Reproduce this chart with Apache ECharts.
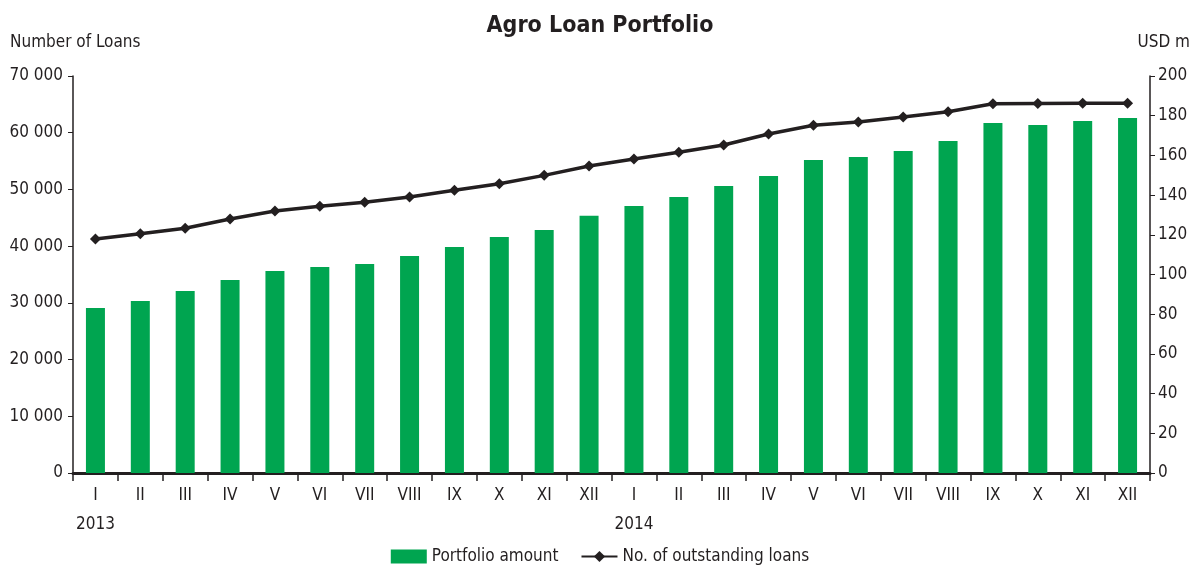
<!DOCTYPE html>
<html>
<head>
<meta charset="utf-8">
<script src="https://cdn.jsdelivr.net/npm/echarts@6/dist/echarts.min.js"></script>
<style>
  html, body { margin: 0; padding: 0; background: #fff; }
  #chart { width: 1200px; height: 568px; }
</style>
</head>
<body>
<div id="chart"></div>
<script>
// months (roman numerals), two years
const months = ['I', 'II', 'III', 'IV', 'V', 'VI', 'VII', 'VIII', 'IX', 'X', 'XI', 'XII',
                'I', 'II', 'III', 'IV', 'V', 'VI', 'VII', 'VIII', 'IX', 'X', 'XI', 'XII'];
const years = ['2013', '', '', '', '', '', '', '', '', '', '', '',
               '2014', '', '', '', '', '', '', '', '', '', '', ''];

// USD m, right axis
const portfolioAmount = [83.1, 86.6, 91.7, 97.2, 101.8, 103.8, 105.3, 109.3, 113.9, 118.9, 122.4, 129.6,
                         134.5, 139.0, 144.6, 149.6, 157.7, 159.2, 162.2, 167.3, 176.3, 175.3, 177.3, 178.8];

// number of loans, left axis
const outstandingLoans = [41250, 42190, 43140, 44780, 46190, 47020, 47720, 48660, 49840, 51010, 52480, 54120,
                          55360, 56540, 57830, 59770, 61300, 61880, 62760, 63700, 65110, 65170, 65190, 65210];

const FONT = '"Liberation Sans Narrow", "DejaVu Sans Condensed", sans-serif';
const INK = '#231f20';
const GREEN = '#00a550';

function spaced(v) {
    return String(v).replace(/\B(?=(\d{3})+(?!\d))/g, ' ');
}

const chart = echarts.init(document.getElementById('chart'));

const option = {
    animation: false,
    textStyle: { fontFamily: FONT, color: INK },
    title: {
        text: 'Agro Loan Portfolio',
        left: 'center',
        top: 10,
        textStyle: { fontFamily: FONT, fontSize: 23, fontWeight: 'bold', color: INK }
    },
    legend: {
        bottom: -2,
        left: 'center',
        itemGap: 22,
        itemWidth: 36,
        itemHeight: 14,
        textStyle: { fontFamily: FONT, fontSize: 17, color: INK },
        data: [
            { name: 'Portfolio amount', icon: 'rect' },
            { name: 'No. of outstanding loans' }
        ]
    },
    grid: { left: 73, right: 50, top: 76, bottom: 95 },
    xAxis: [
        {
            type: 'category',
            data: months,
            boundaryGap: true,
            axisLine: { lineStyle: { color: INK, width: 3 } },
            axisTick: { show: true, length: 8, lineStyle: { color: INK, width: 1.5 } },
            axisLabel: { fontFamily: FONT, fontSize: 17, color: INK, margin: 14 }
        },
        {
            type: 'category',
            data: years,
            position: 'bottom',
            offset: 35,
            boundaryGap: true,
            axisLine: { show: false },
            axisTick: { show: false },
            axisLabel: { fontFamily: FONT, fontSize: 17, color: INK, interval: 0 }
        }
    ],
    yAxis: [
        {
            type: 'value',
            name: 'Number of Loans',
            nameLocation: 'end',
            nameGap: 25,
            nameTextStyle: { fontFamily: FONT, fontSize: 17, color: INK, align: 'left', padding: [0, 0, 0, -63] },
            min: 0, max: 70000, interval: 10000,
            axisLine: { show: true, lineStyle: { color: INK, width: 1.5 } },
            axisTick: { show: true, length: 5, lineStyle: { color: INK } },
            splitLine: { show: false },
            axisLabel: { fontFamily: FONT, fontSize: 17, color: INK, margin: 10, formatter: spaced }
        },
        {
            type: 'value',
            name: 'USD m',
            nameLocation: 'end',
            nameGap: 25,
            nameTextStyle: { fontFamily: FONT, fontSize: 17, color: INK, align: 'right', padding: [0, -40, 0, 0] },
            min: 0, max: 200, interval: 20,
            position: 'right',
            axisLine: { show: true, lineStyle: { color: INK, width: 1.5 } },
            axisTick: { show: true, length: 5, lineStyle: { color: INK } },
            splitLine: { show: false },
            axisLabel: { fontFamily: FONT, fontSize: 17, color: INK, margin: 8 }
        }
    ],
    series: [
        {
            name: 'Portfolio amount',
            type: 'bar',
            xAxisIndex: 0,
            yAxisIndex: 1,
            barWidth: 19,
            itemStyle: { color: GREEN },
            data: portfolioAmount
        },
        {
            name: 'No. of outstanding loans',
            type: 'line',
            xAxisIndex: 0,
            yAxisIndex: 0,
            symbol: 'diamond',
            symbolSize: 11,
            lineStyle: { color: INK, width: 3.5 },
            itemStyle: { color: INK },
            data: outstandingLoans
        }
    ]
};

chart.setOption(option);
</script>
</body>
</html>
